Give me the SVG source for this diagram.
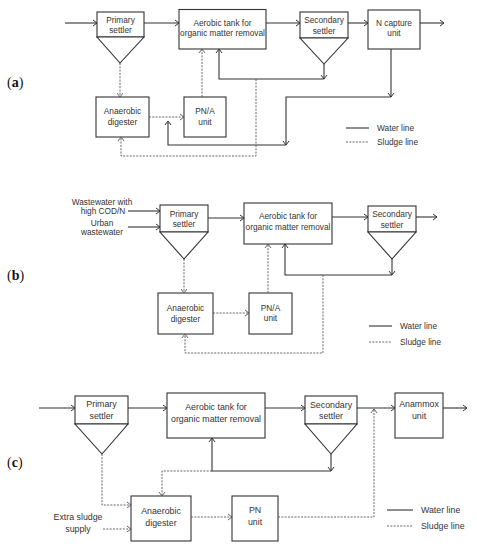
<svg xmlns="http://www.w3.org/2000/svg" width="477" height="550" viewBox="0 0 477 550">
<style>
.box{fill:#fff;stroke:#333;stroke-width:1.1}
.w{fill:none;stroke:#333;stroke-width:1.1}
.s{fill:none;stroke:#555;stroke-width:0.9;stroke-dasharray:2,1.3}
.t{font-family:"Liberation Sans",Arial,sans-serif;font-size:8.3px;fill:#333;text-anchor:middle;dominant-baseline:central}
.tc{font-size:8.8px}
.tl{text-anchor:start}
.lab{font-family:"Liberation Serif","Times New Roman",serif;font-size:14px;fill:#111}
</style>
<defs>
<marker id="a" markerUnits="userSpaceOnUse" markerWidth="8" markerHeight="8" refX="5" refY="3.5" orient="auto" overflow="visible">
<path d="M1,0.5 L5,3.5 L1,6.5" fill="none" stroke="#333" stroke-width="1"/>
</marker>
<marker id="d" markerUnits="userSpaceOnUse" markerWidth="8" markerHeight="8" refX="5" refY="3.5" orient="auto" overflow="visible">
<path d="M1,0.5 L5,3.5 L1,6.5" fill="none" stroke="#555" stroke-width="0.9"/>
</marker>
</defs>

<!-- Panel (a) -->
<text class="lab" x="7" y="87">(<tspan font-weight="bold">a</tspan>)</text>
<g id="a-primary"><rect class="box" x="97" y="12" width="47" height="25"/><path class="box" d="M97,37 L144,37 L120,63 Z"/><text class="t" x="120.5" y="20">Primary</text><text class="t" x="120.5" y="30">settler</text></g>
<g id="a-aerobic"><rect class="box" x="179" y="9.5" width="87" height="39.5"/><text class="t" x="222.5" y="23">Aerobic tank for</text><text class="t" x="222.5" y="33">organic matter removal</text></g>
<g id="a-secondary"><rect class="box" x="300" y="12" width="48" height="26"/><path class="box" d="M300,38 L348,38 L324,64 Z"/><text class="t" x="324" y="20">Secondary</text><text class="t" x="324" y="30.5">settler</text></g>
<g id="a-ncapture"><rect class="box" x="368" y="10" width="52" height="39"/><text class="t" x="394" y="23">N capture</text><text class="t" x="394" y="33">unit</text></g>
<g id="a-digester"><rect class="box" x="96" y="97" width="53" height="40"/><text class="t" x="122.5" y="111">Anaerobic</text><text class="t" x="122.5" y="122">digester</text></g>
<g id="a-pna"><rect class="box" x="184" y="97" width="42" height="40"/><text class="t" x="205" y="111">PN/A</text><text class="t" x="205" y="122">unit</text></g>
<g id="a-legend"><path class="w" d="M346,128 H369"/><path class="s" d="M346,142 H369"/><text class="t tl" x="377" y="128">Water line</text><text class="t tl" x="377" y="142">Sludge line</text></g>

<!-- Panel (b) -->
<text class="lab" x="7" y="280">(<tspan font-weight="bold">b</tspan>)</text>
<g id="b-inputs"><text class="t" x="102" y="202">Wastewater with</text><text class="t" x="103" y="211">high COD/N</text><text class="t" x="102" y="223">Urban</text><text class="t" x="102" y="232">wastewater</text></g>
<g id="b-primary"><rect class="box" x="160" y="205" width="48" height="27"/><path class="box" d="M160,232 L208,232 L184,259 Z"/><text class="t" x="184" y="213.5">Primary</text><text class="t" x="184" y="224">settler</text></g>
<g id="b-aerobic"><rect class="box" x="244" y="203" width="88" height="41"/><text class="t" x="288" y="216">Aerobic tank for</text><text class="t" x="288" y="227">organic matter removal</text></g>
<g id="b-secondary"><rect class="box" x="368" y="206" width="48" height="26"/><path class="box" d="M368,232 L416,232 L392,259 Z"/><text class="t" x="392" y="214">Secondary</text><text class="t" x="392" y="224.5">settler</text></g>
<g id="b-digester"><rect class="box" x="158" y="293" width="55" height="41"/><text class="t" x="185.5" y="308">Anaerobic</text><text class="t" x="185.5" y="318.5">digester</text></g>
<g id="b-pna"><rect class="box" x="249" y="293" width="43" height="41"/><text class="t" x="270.5" y="307.5">PN/A</text><text class="t" x="270.5" y="318">unit</text></g>
<g id="b-legend"><path class="w" d="M369,326 H392"/><path class="s" d="M369,342 H392"/><text class="t tl" x="400" y="326">Water line</text><text class="t tl" x="400" y="342">Sludge line</text></g>

<!-- Panel (c) -->
<text class="lab" x="7" y="467">(<tspan font-weight="bold">c</tspan>)</text>
<g id="c-primary"><rect class="box" x="75" y="396" width="53" height="28"/><path class="box" d="M75,424 L128,424 L102,454 Z"/><text class="t tc" x="101.5" y="404">Primary</text><text class="t tc" x="101.5" y="415.5">settler</text></g>
<g id="c-aerobic"><rect class="box" x="167" y="393" width="98" height="45"/><text class="t tc" x="216" y="407">Aerobic tank for</text><text class="t tc" x="216" y="419">organic matter removal</text></g>
<g id="c-secondary"><rect class="box" x="305" y="396" width="52" height="28"/><path class="box" d="M305,424 L357,424 L331,454 Z"/><text class="t tc" x="331" y="404.5">Secondary</text><text class="t tc" x="331" y="416">settler</text></g>
<g id="c-anammox"><rect class="box" x="395" y="393" width="48" height="45"/><text class="t tc" x="419" y="404">Anammox</text><text class="t tc" x="419" y="415.5">unit</text></g>
<g id="c-digester"><rect class="box" x="131" y="496" width="60" height="45"/><text class="t tc" x="161" y="511">Anaerobic</text><text class="t tc" x="161" y="523">digester</text></g>
<g id="c-pn"><rect class="box" x="232" y="496" width="46" height="45"/><text class="t tc" x="255" y="510">PN</text><text class="t tc" x="255" y="522">unit</text></g>
<g id="c-extra"><text class="t tc" x="78" y="517">Extra sludge</text><text class="t tc" x="78" y="529">supply</text></g>
<g id="c-legend"><path class="w" d="M387,510 H413"/><path class="s" d="M387,526 H413"/><text class="t tc tl" x="421" y="510">Water line</text><text class="t tc tl" x="421" y="526">Sludge line</text></g>

<g id="connectors">
<!-- (a) water -->
<path class="w" marker-end="url(#a)" d="M65,23 H97"/>
<path class="w" marker-end="url(#a)" d="M144,23 H179"/>
<path class="w" marker-end="url(#a)" d="M266,23 H300"/>
<path class="w" marker-end="url(#a)" d="M348,23 H368"/>
<path class="w" marker-end="url(#a)" d="M420,23 H444"/>
<path class="w" marker-end="url(#a)" d="M324,64 V79"/>
<path class="w" marker-end="url(#a)" d="M324,79 H219 V49"/>
<path class="w" marker-end="url(#a)" d="M391,49 V97"/>
<path class="w" marker-end="url(#a)" d="M391,97 H286 V145"/>
<path class="w" marker-end="url(#a)" d="M286,145 H168 V121"/>
<!-- (a) sludge -->
<path class="s" marker-end="url(#d)" d="M120,63 V97"/>
<path class="s" marker-end="url(#d)" d="M149,117 H184"/>
<path class="s" marker-end="url(#d)" d="M202,97 V49"/>
<path class="s" marker-end="url(#d)" d="M256,79 V156 H121 V137"/>
<!-- (b) water -->
<path class="w" marker-end="url(#a)" d="M128,211 H160"/>
<path class="w" marker-end="url(#a)" d="M128,227 H160"/>
<path class="w" marker-end="url(#a)" d="M208,218 H244"/>
<path class="w" marker-end="url(#a)" d="M332,217 H368"/>
<path class="w" marker-end="url(#a)" d="M416,217 H437"/>
<path class="w" marker-end="url(#a)" d="M392,259 V275"/>
<path class="w" marker-end="url(#a)" d="M392,275 H285 V244"/>
<!-- (b) sludge -->
<path class="s" marker-end="url(#d)" d="M184,259 V293"/>
<path class="s" marker-end="url(#d)" d="M213,313 H249"/>
<path class="s" marker-end="url(#d)" d="M268,293 V244"/>
<path class="s" marker-end="url(#d)" d="M323,275 V353 H185 V334"/>
<!-- (c) water -->
<path class="w" marker-end="url(#a)" d="M39,408 H75"/>
<path class="w" marker-end="url(#a)" d="M128,408 H167"/>
<path class="w" marker-end="url(#a)" d="M265,408 H305"/>
<path class="w" marker-end="url(#a)" d="M357,408 H395"/>
<path class="w" marker-end="url(#a)" d="M443,408 H467"/>
<path class="w" marker-end="url(#a)" d="M331,454 V471"/>
<path class="w" marker-end="url(#a)" d="M331,471 H212 V438"/>
<!-- (c) sludge -->
<path class="s" marker-end="url(#d)" d="M212,471 H162 V496"/>
<path class="s" marker-end="url(#d)" d="M102,454 V505 H131"/>
<path class="s" marker-end="url(#d)" d="M103,529 H131"/>
<path class="s" marker-end="url(#d)" d="M191,517 H232"/>
<path class="s" marker-end="url(#d)" d="M278,517 H374 V409"/>
</g>
</svg>
